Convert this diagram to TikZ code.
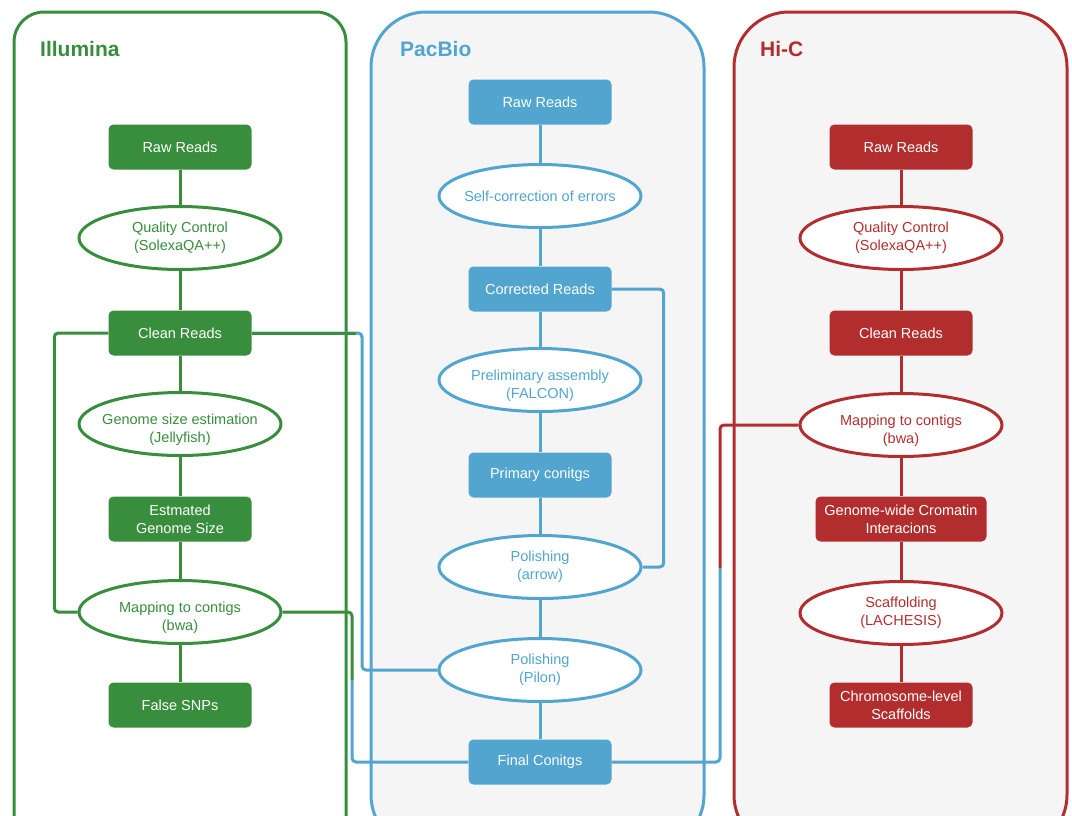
\documentclass[tikz,border=0pt]{standalone}
\usepackage{fontspec}
\setmainfont{Liberation Sans}
\usepackage{xcolor}
\usepackage{tikz}
\usetikzlibrary{shapes.geometric}
\definecolor{ilgreen}{RGB}{56,142,60}
\definecolor{pbblue}{RGB}{81,165,207}
\definecolor{hcred}{RGB}{178,46,46}
\definecolor{lanegray}{RGB}{245,245,245}
\newcommand{\lowline}{\rule{0pt}{22pt}}
\tikzset{
  txt/.style={font=\fontsize{14.5}{18}\selectfont, align=center, inner sep=0pt},
  databox/.style={txt, rectangle, rounded corners=5pt, minimum width=143pt, minimum height=45pt, fill=#1, text=white},
  stepoval/.style={txt, ellipse, inner xsep=-12pt, minimum width=202pt, minimum height=63pt, draw=#1, line width=3pt, fill=white, text=#1},
  link/.style={line width=3pt, draw=#1, rounded corners=4pt},
  lane/.style={line width=3pt, draw=#1},
  title/.style={anchor=west, font=\fontsize{21}{24}\selectfont\bfseries, text=#1, inner sep=0pt}
}

\begin{document}
\begin{tikzpicture}[x=1pt,y=-1pt]
        \useasboundingbox (0,0) rectangle (1072,815);
        \clip (0,0) rectangle (1072,815);

        % lanes
        \draw[lane=ilgreen, fill=white, rounded corners=30pt] (14,12) rectangle (346,850);
        \draw[lane=pbblue, fill=lanegray, rounded corners=55pt] (371,12) rectangle (704,850);
        \draw[lane=hcred, fill=lanegray, rounded corners=55pt] (734,12) rectangle (1067,850);

        \node[title=ilgreen] (tilm) at (40,49) {Illumina};
        \node[title=pbblue] (tpac) at (400,49) {PacBio};
        \node[title=hcred] (thic) at (760,49) {Hi-C};

        % Illumina
        \node[databox=ilgreen] (iraw) at (180,147) {Raw Reads};
        \node[stepoval=ilgreen] (iqc) at (180,238) {Quality Control\\(SolexaQA++)};
        \node[databox=ilgreen] (iclean) at (180,333) {Clean Reads};
        \node[stepoval=ilgreen] (igse) at (180,424) {\lowline Genome size estimation\\(Jellyfish)};
        \node[databox=ilgreen] (isize) at (180,519) {Estmated\\Genome Size};
        \node[stepoval=ilgreen] (imap) at (180,612) {\lowline Mapping to contigs\\(bwa)};
        \node[databox=ilgreen] (isnp) at (180,705) {False SNPs};

        % PacBio
        \node[databox=pbblue] (praw) at (540,102) {Raw Reads};
        \node[stepoval=pbblue] (pself) at (540,196) {Self-correction of errors};
        \node[databox=pbblue] (pcorr) at (540,289) {Corrected Reads};
        \node[stepoval=pbblue] (pasm) at (540,380) {\lowline Preliminary assembly\\(FALCON)};
        \node[databox=pbblue] (pprim) at (540,475) {Primary conitgs};
        \node[stepoval=pbblue] (parrow) at (540,567) {Polishing\\(arrow)};
        \node[stepoval=pbblue] (ppilon) at (540,670) {Polishing\\(Pilon)};
        \node[databox=pbblue] (pfinal) at (540,762) {Final Conitgs};

        % Hi-C
        \node[databox=hcred] (hraw) at (901,147) {Raw Reads};
        \node[stepoval=hcred] (hqc) at (901,238) {Quality Control\\(SolexaQA++)};
        \node[databox=hcred] (hclean) at (901,333) {Clean Reads};
        \node[stepoval=hcred] (hmap) at (901,425) {\lowline Mapping to contigs\\(bwa)};
        \node[databox=hcred, minimum width=171pt] (hint) at (901,519) {Genome-wide Cromatin\\Interacions};
        \node[stepoval=hcred] (hscaf) at (901,613) {Scaffolding\\(LACHESIS)};
        \node[databox=hcred] (hchr) at (901,705) {Chromosome-level\\Scaffolds};

        % points where a link changes colour
        \coordinate (cpilon) at (362,333);
        \coordinate (cmapil) at (352,680);
        \coordinate (cmaphc) at (720,568);

        % links between the lanes
        \draw[link=pbblue] (ppilon.west) -| (cpilon) -- (iclean.east);
        \draw[link=ilgreen] (iclean.east) -- ++(104,0);
        \draw[link=ilgreen] (iclean.west) -- ++(-54,0) |- (imap.west);
        \draw[link=pbblue] (pfinal.west) -| (cmapil);
        \draw[link=ilgreen] (imap.east) -| (cmapil);
        \draw[link=pbblue] (pfinal.east) -| (cmaphc);
        \draw[link=hcred] (hmap.west) -| (cmaphc);
        \draw[link=pbblue] (pcorr.east) -- ++(52,0) |- (parrow.east);

        % links down each lane
        \foreach \a/\b in {iraw/iqc,iqc/iclean,iclean/igse,igse/isize,isize/imap,imap/isnp}
            \draw[link=ilgreen] (\a) -- (\b);
        \foreach \a/\b in {praw/pself,pself/pcorr,pcorr/pasm,pasm/pprim,pprim/parrow,parrow/ppilon,ppilon/pfinal}
            \draw[link=pbblue] (\a) -- (\b);
        \foreach \a/\b in {hraw/hqc,hqc/hclean,hclean/hmap,hmap/hint,hint/hscaf,hscaf/hchr}
            \draw[link=hcred] (\a) -- (\b);
    \end{tikzpicture}
\end{document}
